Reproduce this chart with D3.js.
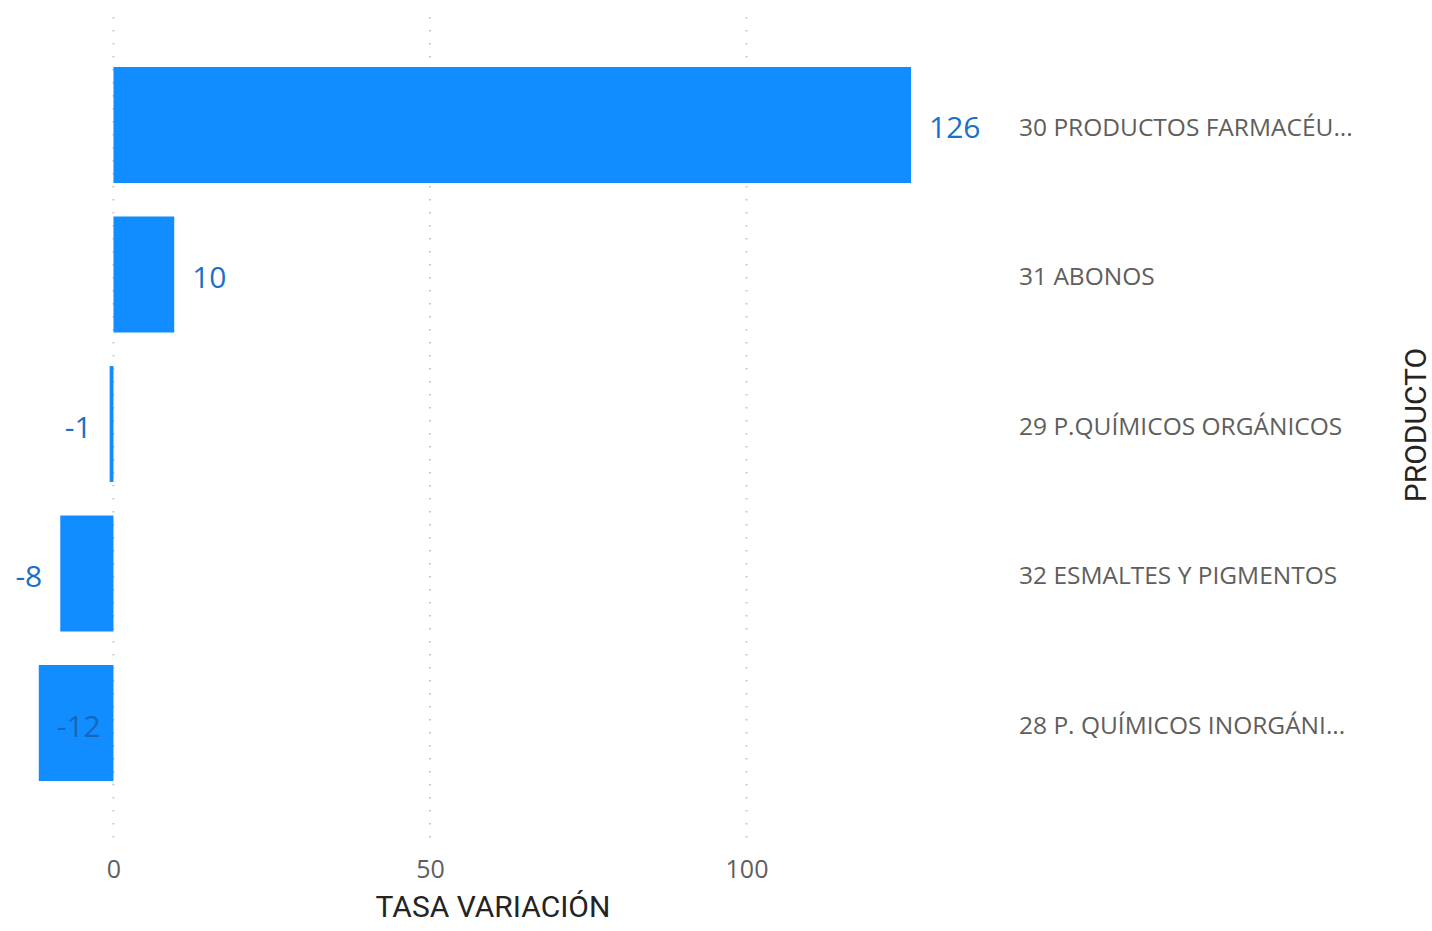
<!DOCTYPE html>
<html>
<head>
<meta charset="utf-8">
<script src="https://cdn.jsdelivr.net/npm/d3@7"></script>
<style>
  body { margin: 0; background: #fff; }
  svg { display: block; }
</style>
</head>
<body>
<svg id="chart" width="1432" height="931"></svg>
<script>
'use strict';

var productos = [
  '30 PRODUCTOS FARMACÉU...',
  '31 ABONOS',
  '29 P.QUÍMICOS ORGÁNICOS',
  '32 ESMALTES Y PIGMENTOS',
  '28 P. QUÍMICOS INORGÁNI...'
];
var tasaVariacion = [126, 9.6, -0.6, -8.4, -11.8];
var xTicks = [0, 50, 100];

var data = productos.map(function (p, i) {
  return { producto: p, valor: tasaVariacion[i] };
});

var svg = d3.select('#chart');

var x = d3.scaleLinear()
  .domain([-12, 140])
  .range([37.5, 999.7]);

var y = d3.scaleBand()
  .domain(productos)
  .range([33.5, 814.5])
  .padding(0.224);

// dotted gridlines
svg.append('g')
  .selectAll('line')
  .data(xTicks)
  .enter().append('line')
    .attr('x1', function (d) { return x(d); })
    .attr('x2', function (d) { return x(d); })
    .attr('y1', 17)
    .attr('y2', 847)
    .attr('stroke', '#c8c6c4')
    .attr('stroke-width', 2)
    .attr('stroke-dasharray', '1.5,11.5');

// x axis labels
var xAxis = svg.append('g')
  .attr('transform', 'translate(0,869)')
  .call(d3.axisBottom(x).tickValues(xTicks).tickSize(0).tickPadding(0));
xAxis.select('.domain').remove();
xAxis.selectAll('text')
  .attr('dy', '0.35em')
  .style('font-family', '"Open Sans", "Noto Sans", sans-serif')
  .style('font-size', '25px')
  .style('fill', '#605e5c');

// bars
svg.append('g')
  .selectAll('rect')
  .data(data)
  .enter().append('rect')
    .attr('x', function (d) { return x(Math.min(0, d.valor)); })
    .attr('y', function (d) { return y(d.producto); })
    .attr('width', function (d) { return Math.abs(x(d.valor) - x(0)); })
    .attr('height', y.bandwidth())
    .attr('fill', '#118dff');

// data labels (hyphen minus, like the original)
var fmt = d3.formatLocale({ decimal: '.', thousands: ',', grouping: [3], currency: ['', ''], minus: '-' }).format('.0f');
function inside(d) { return d.valor < 0 && x(d.valor) - 18 < 30; }

svg.append('g')
  .selectAll('text')
  .data(data)
  .enter().append('text')
    .attr('x', function (d) {
      if (d.valor >= 0 || inside(d)) return x(d.valor) + 18;
      return x(d.valor) - 18;
    })
    .attr('y', function (d) { return y(d.producto) + y.bandwidth() / 2 + 3; })
    .attr('dy', '0.35em')
    .attr('text-anchor', function (d) {
      return (d.valor >= 0 || inside(d)) ? 'start' : 'end';
    })
    .style('font-family', '"Open Sans", "Noto Sans", sans-serif')
    .style('font-size', '30px')
    .style('fill', function (d) { return inside(d) ? '#1667b8' : '#1b6fc8'; })
    .text(function (d) { return fmt(d.valor); });

// category labels on the right
svg.append('g')
  .selectAll('text')
  .data(productos)
  .enter().append('text')
    .attr('x', 1019)
    .attr('y', function (d) { return y(d) + y.bandwidth() / 2 + 2; })
    .attr('dy', '0.35em')
    .style('font-family', '"Open Sans", "Noto Sans", sans-serif')
    .style('font-size', '24.5px')
    .style('fill', '#605e5c')
    .text(function (d) { return d; });

// axis titles
svg.append('text')
  .attr('x', 493)
  .attr('y', 917)
  .attr('text-anchor', 'middle')
  .style('font-family', 'Roboto, "DejaVu Sans", sans-serif')
  .style('font-size', '30px')
  .style('fill', '#252423')
  .text('TASA VARIACIÓN');

svg.append('text')
  .attr('transform', 'translate(1426,425) rotate(-90)')
  .attr('text-anchor', 'middle')
  .style('font-family', 'Roboto, "DejaVu Sans", sans-serif')
  .style('font-size', '30px')
  .style('fill', '#252423')
  .text('PRODUCTO');
</script>
</body>
</html>
